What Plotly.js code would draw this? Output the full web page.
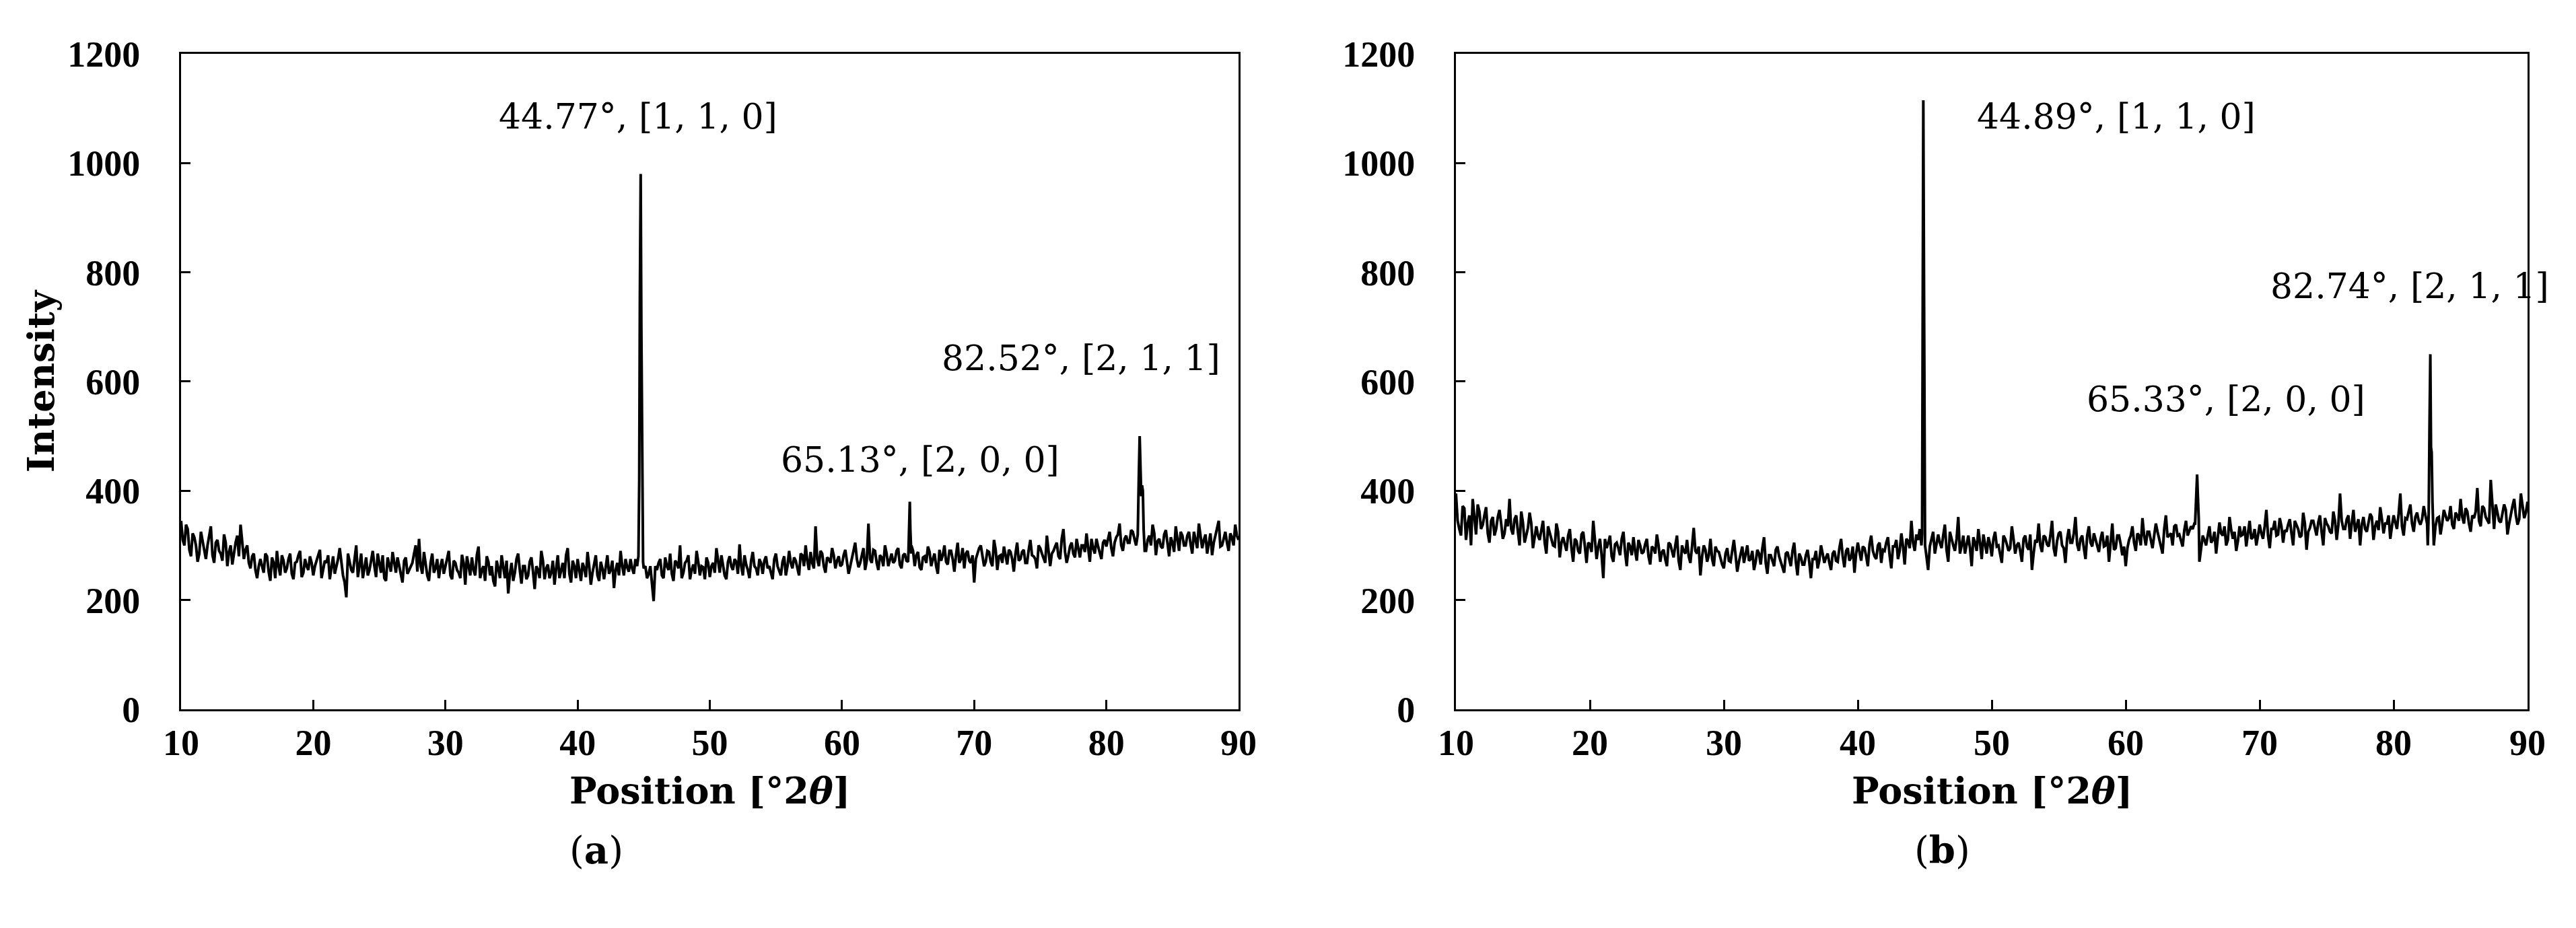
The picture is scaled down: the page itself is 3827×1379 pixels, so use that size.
<!DOCTYPE html>
<html>
<head>
<meta charset="utf-8">
<script src="https://cdn.plot.ly/plotly-3.0.1.min.js"></script>
<style>
  html, body { margin: 0; padding: 0; background: #fff; }
  #plot { width: 3827px; height: 1379px; }
</style>
</head>
<body>
<div id="plot"></div>
<script>
// scan grid: 10..90 °2θ, readings every 0.125° (kept as whole steps + half steps)
const SCAN_START = 10;
const SCAN_STEP = 0.25;

// sample (a) background, whole steps (10, 10.25, ...)
const bgA = [
  345, 300, 330, 280, 315, 270, 325, 295,
  300, 335, 268, 310, 285, 320, 262, 300,
  290, 318, 338, 275, 300, 258, 285, 240,
  275, 250, 280, 235, 268, 290, 245, 272,
  258, 285, 238, 270, 290, 250, 262, 280,
  245, 272, 292, 255, 268, 238, 280, 260,
  295, 245, 205, 270, 250, 300, 262, 240,
  278, 255, 290, 242, 268, 282, 235, 265,
  288, 250, 262, 232, 278, 255, 268, 300,
  312, 248, 270, 235, 285, 258, 240, 275,
  262, 290, 238, 268, 250, 283, 228, 265,
  278, 245, 298, 255, 235, 270, 262, 225,
  258, 282, 240, 212, 268, 250, 285, 230,
  262, 245, 278, 220, 255, 290, 238, 265,
  250, 228, 282, 255, 240, 295, 232, 262,
  275, 235, 258, 288, 228, 265, 245, 270,
  238, 282, 255, 222, 268, 290, 245, 260,
  275, 248, 262, 270, 258, 240, 262, 198,
  255, 275, 240, 262, 285, 235, 268, 300,
  250, 272, 238, 265, 290, 245, 260, 278,
  242, 268, 295, 250, 262, 238, 280, 255,
  270, 302, 245, 265, 240, 288, 258, 275,
  248, 280, 262, 238, 285, 255, 270, 245,
  290, 258, 272, 245, 282, 300, 255, 268,
  335, 262, 285, 250, 275, 295, 258, 280,
  265, 292, 248, 278, 305, 260, 282, 255,
  340, 268, 290, 255, 278, 300, 262, 285,
  272, 295, 258, 285, 270, 300, 262, 288,
  255, 280, 298, 262, 285, 248, 272, 300,
  265, 290, 252, 305, 275, 258, 290, 268,
  232, 285, 300, 262, 290, 270, 310, 255,
  282, 298, 265, 288, 252, 305, 275, 292,
  268, 310, 280, 258, 295, 275, 318, 262,
  290, 305, 275, 330, 268, 298, 285, 312,
  278, 300, 322, 270, 295, 312, 285, 305,
  298, 325, 280, 315, 340, 290, 318, 305,
  325, 300, 310, 305, 290, 318, 338, 282,
  312, 295, 328, 280, 305, 335, 290, 318,
  300, 325, 285, 312, 340, 295, 320, 305,
  282, 318, 345, 300, 325, 290, 315, 338,
  310
];

// sample (a) background, half steps (10.125, 10.375, ...)
const bgAHalf = [
  310, 338, 292, 322, 300, 285, 310, 275,
  318, 282, 305, 290, 272, 305, 288, 265,
  305, 280, 310, 292, 268, 280, 255, 262,
  262, 285, 252, 278, 240, 262, 282, 250,
  275, 248, 268, 282, 242, 275, 255, 268,
  262, 285, 240, 272, 282, 258, 248, 275,
  268, 232, 285, 255, 278, 242, 285, 258,
  245, 272, 262, 285, 250, 240, 278, 252,
  270, 278, 245, 272, 248, 262, 285, 252,
  262, 288, 245, 268, 250, 275, 262, 248,
  278, 245, 272, 255, 240, 268, 280, 245,
  255, 282, 240, 262, 280, 245, 235, 272,
  240, 262, 272, 248, 235, 275, 255, 262,
  238, 270, 252, 262, 240, 272, 258, 240,
  272, 258, 240, 268, 282, 248, 272, 240,
  255, 268, 242, 262, 250, 282, 235, 258,
  262, 248, 272, 255, 245, 262, 275, 252,
  258, 275, 300, 300, 262, 248, 225, 262,
  268, 245, 278, 255, 248, 272, 258, 240,
  268, 282, 255, 248, 270, 262, 238, 268,
  262, 250, 272, 282, 245, 270, 262, 275,
  248, 262, 282, 255, 272, 262, 245, 268,
  272, 258, 250, 275, 262, 245, 280, 262,
  268, 278, 255, 285, 262, 272, 288, 258,
  275, 290, 262, 278, 268, 282, 272, 262,
  282, 270, 262, 290, 275, 268, 295, 272,
  275, 292, 268, 282, 262, 285, 275, 268,
  290, 265, 282, 272, 300, 290, 282, 260,
  278, 268, 288, 275, 262, 292, 282, 270,
  290, 275, 282, 268, 295, 285, 272, 282,
  275, 295, 282, 270, 288, 262, 292, 280,
  268, 282, 292, 275, 285, 272, 288, 268,
  292, 282, 275, 300, 285, 268, 292, 285,
  298, 280, 312, 288, 282, 305, 278, 295,
  300, 288, 295, 312, 285, 298, 275, 310,
  310, 295, 305, 320, 300, 312, 305, 328,
  312, 320, 335, 400, 310, 300, 322, 308,
  298, 320, 305, 315, 288, 312, 325, 300,
  318, 302, 325, 295, 318, 310, 285, 322,
  305, 330, 298, 312, 305, 322, 300, 318
];

// sample (a) peak profiles
const peakXA = [44.6, 44.66, 44.71, 44.77, 44.82, 44.88, 44.95,
                65.03, 65.1, 65.13, 65.17, 65.24,
                82.38, 82.45, 82.52, 82.58, 82.64, 82.7, 82.76, 82.82, 82.9];
const peakYA = [280, 420, 760, 980, 700, 380, 270,
                290, 340, 380, 330, 285,
                330, 420, 500, 430, 390, 410, 400, 330, 290];

// sample (b) background, whole steps
const bgB = [
  395, 330, 372, 310, 355, 385, 320, 362,
  338, 370, 305, 352, 330, 365, 312, 348,
  385, 320, 355, 300, 342, 318, 360, 295,
  335, 310, 345, 285, 322, 300, 340, 278,
  315, 290, 330, 270, 308, 285, 325, 268,
  302, 345, 275, 312, 240, 295, 318, 270,
  305, 282, 325, 262, 298, 315, 272, 300,
  288, 312, 265, 295, 320, 270, 292, 262,
  302, 278, 318, 255, 290, 310, 268, 332,
  285, 245, 300, 270, 312, 262, 290, 275,
  258, 295, 270, 310, 252, 285, 268, 300,
  275, 255, 292, 265, 315, 248, 282, 262,
  298, 270, 250, 288, 262, 305, 245, 278,
  265, 292, 240, 275, 258, 300, 268, 285,
  255, 290, 270, 312, 260, 295, 278, 250,
  305, 272, 295, 262, 318, 280, 300, 268,
  290, 315, 258, 298, 275, 322, 265, 308,
  345, 290, 310, 300, 300, 255, 312, 285,
  320, 295, 338, 270, 310, 290, 352, 300,
  285, 318, 262, 305, 330, 275, 298, 315,
  280, 325, 300, 268, 312, 290, 335, 285,
  305, 270, 318, 292, 255, 310, 340, 288,
  315, 298, 345, 280, 322, 300, 268, 330,
  305, 352, 290, 318, 275, 335, 298, 312,
  288, 325, 300, 270, 340, 295, 318, 282,
  262, 310, 335, 290, 318, 350, 300, 325,
  295, 340, 312, 285, 355, 318, 300, 338,
  320, 298, 345, 325, 330, 335, 270, 318,
  300, 335, 310, 285, 342, 318, 300, 352,
  312, 290, 335, 320, 298, 345, 315, 300,
  338, 312, 365, 295, 330, 318, 350, 305,
  325, 348, 300, 338, 315, 360, 292, 332,
  345, 318, 355, 300, 340, 325, 362, 310,
  395, 330, 348, 312, 365, 335, 300, 352,
  325, 358, 310, 345, 370, 322, 340, 312,
  355, 330, 395, 318, 348, 375, 325, 360,
  338, 372, 340, 330, 300, 350, 320, 365,
  345, 372, 330, 355, 385, 340, 362, 325,
  350, 405, 335, 368, 345, 420, 330, 360,
  342, 375, 320, 358, 385, 338, 395, 350,
  380
];

// sample (b) background, half steps
const bgBHalf = [
  345, 318, 368, 340, 300, 345, 375, 330,
  355, 322, 345, 318, 352, 340, 322, 335,
  330, 348, 325, 362, 305, 332, 340, 312,
  318, 328, 305, 335, 312, 298, 325, 305,
  302, 318, 295, 312, 290, 320, 298, 305,
  288, 310, 298, 282, 312, 305, 280, 302,
  295, 312, 288, 305, 282, 290, 310, 285,
  302, 280, 298, 285, 300, 288, 275, 305,
  290, 300, 272, 300, 285, 280, 298, 290,
  298, 280, 292, 282, 275, 298, 288, 265,
  285, 272, 295, 282, 270, 298, 285, 272,
  290, 270, 285, 295, 268, 282, 272, 292,
  280, 262, 285, 275, 290, 270, 285, 265,
  282, 270, 275, 290, 272, 285, 278, 268,
  285, 272, 295, 280, 290, 272, 298, 285,
  288, 298, 280, 302, 290, 275, 305, 292,
  305, 282, 298, 310, 290, 298, 312, 295,
  305, 320, 330, 300, 280, 298, 325, 302,
  305, 318, 292, 325, 300, 312, 285, 318,
  302, 295, 315, 290, 305, 320, 285, 302,
  312, 298, 285, 318, 302, 295, 312, 300,
  290, 312, 298, 320, 285, 305, 300, 318,
  302, 318, 295, 308, 325, 295, 312, 305,
  322, 302, 312, 295, 318, 305, 322, 298,
  312, 298, 318, 305, 292, 318, 302, 298,
  295, 318, 305, 322, 300, 318, 325, 310,
  318, 325, 300, 330, 315, 322, 335, 318,
  310, 328, 318, 335, 340, 380, 300, 310,
  318, 305, 325, 315, 322, 335, 310, 328,
  325, 308, 318, 335, 322, 312, 330, 318,
  322, 335, 318, 330, 345, 320, 335, 328,
  338, 322, 345, 330, 318, 340, 325, 345,
  330, 342, 325, 350, 335, 322, 345, 338,
  345, 330, 355, 340, 325, 348, 338, 330,
  340, 352, 335, 328, 348, 340, 355, 335,
  342, 358, 335, 350, 362, 340, 352, 345,
  348, 355, 330, 400, 335, 352, 340, 355,
  350, 338, 360, 345, 352, 368, 340, 355,
  362, 345, 372, 352, 340, 365, 375, 345,
  358, 365, 340, 372, 355, 348, 370, 360
];

// sample (b) peak profiles
const peakXB = [44.8, 44.85, 44.89, 44.93, 44.98, 45.02,
                65.18, 65.24, 65.29, 65.33, 65.38, 65.45,
                82.55, 82.62, 82.68, 82.74, 82.79, 82.84, 82.9, 82.96];
const peakYB = [320, 800, 1115, 850, 420, 300,
                340, 390, 420, 430, 395, 350,
                300, 360, 520, 650, 480, 470, 380, 330];

// peak labels
const labelTextA = ["44.77°, [1, 1, 0]", "65.13°, [2, 0, 0]", "82.52°, [2, 1, 1]"];
const labelXA = [44.6, 65.9, 78.1];
const labelYA = [1085, 457, 643];
const labelTextB = ["44.89°, [1, 1, 0]", "65.33°, [2, 0, 0]", "82.74°, [2, 1, 1]"];
const labelXB = [59.3, 67.5, 81.2];
const labelYB = [1085, 568, 775];

const xTicks = [10, 20, 30, 40, 50, 60, 70, 80, 90];
const yTicks = [0, 200, 400, 600, 800, 1000, 1200];

// merge the scan readings with the peak profiles (peak points replace the scan inside their span)
function buildPattern(bg, bgHalf, px, py) {
  const groups = [];
  let start = 0;
  for (let i = 1; i <= px.length; i++) {
    if (i === px.length || px[i] - px[i - 1] > 1) {
      groups.push([px[start], px[i - 1]]);
      start = i;
    }
  }
  const inPeak = x => groups.some(g => x >= g[0] && x <= g[1]);
  const pts = [];
  bg.forEach((y, i) => {
    const x = SCAN_START + i * SCAN_STEP;
    if (!inPeak(x)) pts.push([x, y]);
  });
  bgHalf.forEach((y, i) => {
    const x = SCAN_START + SCAN_STEP / 2 + i * SCAN_STEP;
    if (!inPeak(x)) pts.push([x, y]);
  });
  px.forEach((x, i) => pts.push([x, py[i]]));
  pts.sort((a, b) => a[0] - b[0]);
  return { x: pts.map(p => p[0]), y: pts.map(p => p[1]) };
}

const patA = buildPattern(bgA, bgAHalf, peakXA, peakYA);
const patB = buildPattern(bgB, bgBHalf, peakXB, peakYB);

const traces = [
  { type: "scatter", mode: "lines", x: patA.x, y: patA.y, xaxis: "x", yaxis: "y",
    line: { color: "#000", width: 4 }, showlegend: false, hoverinfo: "skip" },
  { type: "scatter", mode: "lines", x: patB.x, y: patB.y, xaxis: "x2", yaxis: "y2",
    line: { color: "#000", width: 4 }, showlegend: false, hoverinfo: "skip" }
];

const TICK_SERIF = "Liberation Serif, Times New Roman, serif";
const TEXT_SERIF = "DejaVu Serif, Liberation Serif, serif";
const tickFont = { family: TICK_SERIF, size: 54, color: "#000", weight: "bold" };

function xAxis(domain, anchor) {
  return {
    domain, anchor, range: [10, 90], tickvals: xTicks, ticktext: xTicks.map(String),
    ticks: "inside", ticklen: 14, tickwidth: 3, tickcolor: "#000",
    showline: true, linecolor: "#000", linewidth: 3, mirror: true,
    showgrid: false, zeroline: false, tickfont: tickFont, ticklabelstandoff: 0
  };
}
function yAxis(anchor) {
  return {
    domain: [0.2357, 0.942], anchor, range: [0, 1200], tickvals: yTicks, ticktext: yTicks.map(String),
    ticks: "inside", ticklen: 14, tickwidth: 3, tickcolor: "#000",
    showline: true, linecolor: "#000", linewidth: 3, mirror: true,
    showgrid: false, zeroline: false, tickfont: tickFont, ticklabelstandoff: 47
  };
}

const annFont = { family: TEXT_SERIF, size: 52, color: "#000" };
const annotations = [];
labelTextA.forEach((t, i) => annotations.push({
  xref: "x", yref: "y", x: labelXA[i], y: labelYA[i], text: t, showarrow: false,
  xanchor: "center", yanchor: "middle", font: annFont
}));
labelTextB.forEach((t, i) => annotations.push({
  xref: "x2", yref: "y2", x: labelXB[i], y: labelYB[i], text: t, showarrow: false,
  xanchor: "center", yanchor: "middle", font: annFont
}));

const titleFont = { family: TEXT_SERIF, size: 54, color: "#000", weight: "bold" };
const capFont = { family: TEXT_SERIF, size: 56, color: "#000" };
function paperText(x, y, text, font, angle) {
  return { xref: "paper", yref: "paper", x, y, text, showarrow: false,
           xanchor: "center", yanchor: "middle", textangle: angle || 0, font };
}
annotations.push(
  paperText(0.2756, 0.148, "Position [°2<i>θ</i>]", titleFont),
  paperText(0.7732, 0.148, "Position [°2<i>θ</i>]", titleFont),
  paperText(0.016, 0.5896, "Intensity", titleFont, -90),
  paperText(0.2315, 0.084, "(<b>a</b>)", capFont),
  paperText(0.7539, 0.084, "(<b>b</b>)", capFont)
);

const layout = {
  width: 3827, height: 1379, autosize: false,
  margin: { l: 0, r: 0, t: 0, b: 0 },
  paper_bgcolor: "#fff", plot_bgcolor: "#fff",
  showlegend: false,
  xaxis: xAxis([0.0703, 0.4808], "y"),
  yaxis: yAxis("x"),
  xaxis2: xAxis([0.5652, 0.9812], "y2"),
  yaxis2: yAxis("x2"),
  annotations
};

Plotly.newPlot("plot", traces, layout, { staticPlot: true, displayModeBar: false });
</script>
</body>
</html>
